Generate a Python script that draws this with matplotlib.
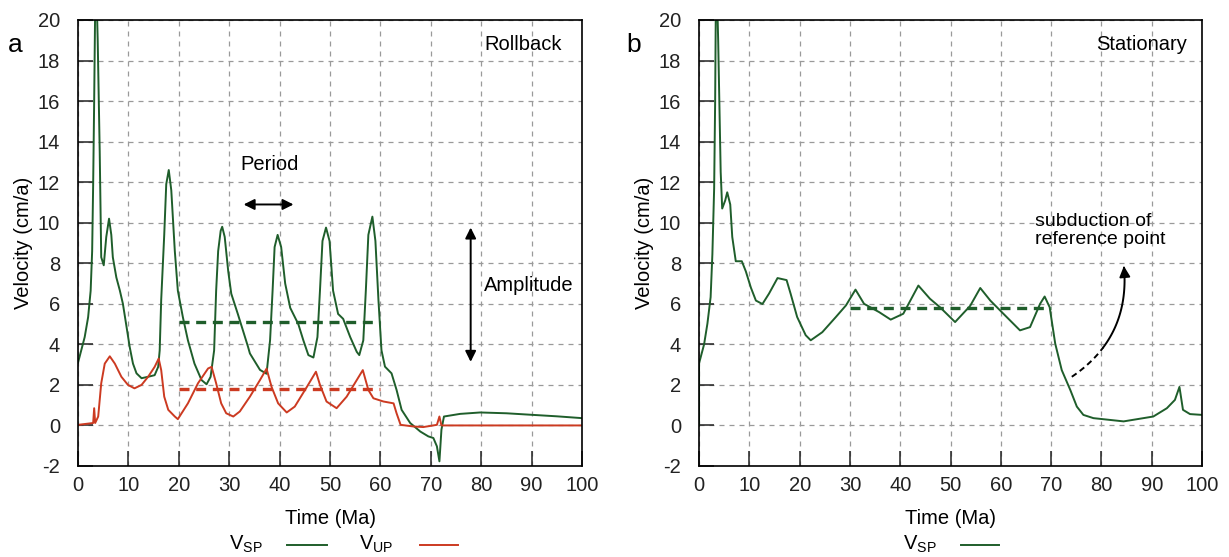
import numpy as np
import matplotlib
matplotlib.use('Agg')
import matplotlib.pyplot as plt
from matplotlib.lines import Line2D

plt.rcParams['font.family'] = ['Liberation Sans', 'DejaVu Sans']
plt.rcParams['mathtext.default'] = 'regular'
plt.rcParams['axes.unicode_minus'] = False

# --- data ------------------------------------------------------------------
# (a) Rollback, V_SP
t_sp_a = [0, 1.32, 2.0, 2.5, 2.8, 3.0, 3.2, 3.5, 3.9, 4.3, 4.6, 5.1, 5.6, 6.15, 6.6,
          6.9, 7.6, 8.3, 8.9, 9.6, 10.25, 10.9, 11.6, 12.6, 13.9, 15.2, 15.9, 16.2,
          16.5, 17.1, 17.5, 18.0, 18.5, 19.2, 19.8, 20.8, 21.8, 23.1, 24.5, 25.5,
          26.3, 27.0, 27.4, 27.8, 28.3, 28.6, 29.1, 29.8, 30.4, 31.7, 33.7, 34.1,
          36.1, 37.4, 38.1, 38.6, 39.0, 39.6, 40.3, 41.1, 42.1, 43.7, 44.7, 45.7,
          46.7, 47.5, 48.0, 48.5, 49.2, 49.9, 50.6, 51.6, 52.6, 54.0, 55.3, 55.8,
          56.6, 57.1, 57.6, 58.4, 59.0, 59.6, 60.2, 60.9, 62.2, 63.2, 64.2, 65.9,
          67.9, 69.5, 70.5, 71.2, 71.7, 72.1, 72.6, 75.8, 79.8, 85.0, 90.3, 95.0, 100]
v_sp_a = [3.1, 4.36, 5.34, 6.64, 8.6, 11.9, 16.0, 23.0, 19.0, 13.5, 8.3, 7.9, 9.3, 10.2,
          9.4, 8.3, 7.3, 6.65, 6.0, 4.9, 3.87, 3.05, 2.57, 2.33, 2.4, 2.48, 2.89, 3.7,
          6.2, 9.4, 11.9, 12.6, 11.6, 8.6, 6.65, 5.34, 4.2, 3.05, 2.24, 2.03,
          2.4, 3.7, 6.64, 8.6, 9.6, 9.8, 9.3, 7.6, 6.5, 5.5, 3.9, 3.55,
          2.74, 2.55, 4.2, 6.65, 8.8, 9.4, 8.8, 7.0, 5.8, 5.0, 4.2, 3.47,
          3.35, 4.36, 6.65, 9.1, 9.76, 9.1, 6.65, 5.5, 5.26, 4.36, 3.63, 3.47,
          4.2, 6.65, 9.4, 10.3, 9.1, 6.2, 3.71, 2.9, 2.57, 1.75, 0.77, 0.12,
          -0.3, -0.54, -0.62, -1.03, -1.77, -0.21, 0.44, 0.57, 0.64, 0.6, 0.52, 0.45, 0.36]

# (a) Rollback, V_UP
t_up_a = [0, 3.0, 3.2, 3.4, 4.0, 4.6, 5.3, 6.3, 7.3, 8.6, 9.9, 11.2, 12.6, 13.9, 15.2,
          16.0, 16.5, 17.1, 17.9, 19.2, 19.8, 21.8, 23.8, 25.8, 26.5, 27.4, 28.4,
          29.4, 30.8, 32.1, 34.1, 36.1, 37.4, 38.4, 39.7, 41.4, 43.0, 45.4, 47.2,
          48.0, 49.3, 51.3, 53.3, 55.3, 56.5, 57.6, 58.6, 60.6, 62.6, 63.2, 64.0,
          66.5, 68.5, 71.2, 71.7, 72.1, 100]
v_up_a = [0.03, 0.12, 0.85, 0.12, 0.44, 2.08, 3.05, 3.41, 3.05, 2.4, 2.0, 1.83, 2.0, 2.4,
          2.89, 3.3, 2.73, 1.42, 0.77, 0.44, 0.31, 1.09, 2.08, 2.81, 2.89, 2.08, 1.09,
          0.6, 0.44, 0.69, 1.42, 2.24, 2.8, 1.9, 1.09, 0.64, 0.93, 1.9, 2.65,
          2.0, 1.18, 0.85, 1.42, 2.24, 2.73, 1.75, 1.34, 1.18, 1.09, 0.6, 0.03,
          -0.05, -0.08, 0.03, 0.44, 0.0, 0.0]

# (b) Stationary, V_SP
t_sp_b = [0, 0, 1.0, 1.66, 2.3, 2.65, 3.0, 3.2, 3.4, 3.8, 4.3, 4.6, 5.2, 5.6, 6.2, 6.6,
          7.3, 8.5, 9.3, 10.3, 11.3, 12.6, 13.9, 15.6, 17.4, 18.2, 19.5, 21.2, 22.2,
          24.5, 27.2, 29.2, 31.1, 32.8, 35.8, 38.1, 40.6, 43.6, 45.9, 47.9, 50.9,
          53.9, 55.9, 57.9, 60.5, 63.8, 65.8, 67.8, 68.7, 69.7, 70.8, 72.1, 73.8,
          75.1, 76.4, 78.4, 84.4, 90.3, 93.0, 94.6, 95.5, 96.2, 97.6, 100]
v_sp_b = [0.0, 3.06, 4.0, 5.02, 6.33, 8.45, 11.7, 16.0, 23.0, 19.0, 12.5, 10.7, 11.1,
          11.5, 10.9, 9.3, 8.1, 8.1, 7.6, 6.8, 6.16, 5.99, 6.5, 7.27, 7.17, 6.5, 5.35,
          4.45, 4.2, 4.6, 5.35, 5.92, 6.7, 6.0, 5.59, 5.22, 5.51, 6.9, 6.25, 5.83,
          5.1, 5.9, 6.78, 6.16, 5.51, 4.69, 4.85, 6.0, 6.36, 5.83, 4.04, 2.73, 1.75,
          0.93, 0.52, 0.36, 0.2, 0.44, 0.85, 1.26, 1.9, 0.77, 0.56, 0.52]

mean_sp_a = 5.1
mean_up_a = 1.8
mean_sp_b = 5.8

GREEN = '#1f5e2b'
RED = '#cc3a21'
FS = 14.5

fig = plt.figure(figsize=(12.29, 5.57), dpi=100)
ax_a = fig.add_axes([0.0635, 0.1634, 0.4101, 0.8007])
ax_b = fig.add_axes([0.5688, 0.1634, 0.4093, 0.8007])


def style_axes(ax):
    ax.set_xlim(0, 100)
    ax.set_ylim(-2, 20)
    ax.set_xticks(np.arange(0, 101, 10))
    ax.set_yticks(np.arange(-2, 21, 2))
    ax.grid(True, color='#9a9a9a', linestyle=(0, (4, 4)), linewidth=0.9)
    ax.tick_params(direction='in', length=11, width=1.1, colors='#222222',
                   labelsize=FS, top=False, right=False)
    ax.tick_params(axis='y', pad=13)
    ax.tick_params(axis='x', pad=7)
    for s in ax.spines.values():
        s.set_linewidth(1.2)
    ax.set_xlabel('Time (Ma)', fontsize=FS, labelpad=10)
    ax.set_ylabel('Velocity (cm/a)', fontsize=FS, labelpad=3)


style_axes(ax_a)
style_axes(ax_b)

# panel a
ax_a.plot(t_sp_a, v_sp_a, color=GREEN, lw=1.4)
ax_a.plot(t_up_a, v_up_a, color=RED, lw=1.4)
ax_a.plot([20, 60], [mean_sp_a, mean_sp_a], color=GREEN, lw=2.4, linestyle=(0, (3, 2)))
ax_a.plot([20, 60], [mean_up_a, mean_up_a], color=RED, lw=2.4, linestyle=(0, (3, 2)))

ax_a.annotate('', xy=(32.3, 10.9), xytext=(43.3, 10.9),
              arrowprops=dict(arrowstyle='<|-|>', color='k', lw=1.4, mutation_scale=16))
ax_a.text(38, 12.85, 'Period', ha='center', va='center', fontsize=FS)
ax_a.annotate('', xy=(77.9, 3.0), xytext=(77.9, 9.9),
              arrowprops=dict(arrowstyle='<|-|>', color='k', lw=1.4, mutation_scale=16))
ax_a.text(80.6, 6.9, 'Amplitude', ha='left', va='center', fontsize=FS)
ax_a.text(96, 18.8, 'Rollback', ha='right', va='center', fontsize=FS)

# panel b
ax_b.plot(t_sp_b, v_sp_b, color=GREEN, lw=1.4)
ax_b.plot([30, 70], [mean_sp_b, mean_sp_b], color=GREEN, lw=2.4, linestyle=(0, (3, 2)))
ax_b.text(97, 18.8, 'Stationary', ha='right', va='center', fontsize=FS)
ax_b.text(66.8, 9.6, 'subduction of\nreference point', ha='left', va='center',
          fontsize=FS - 0.5, linespacing=1.1)

# curved arrow: quadratic bezier, dashed start then solid
p0 = np.array([74.1, 2.4])
p1 = np.array([86.0, 4.4])
p2 = np.array([84.4, 8.0])
s = np.linspace(0, 1, 60)[:, None]
curve = (1 - s) ** 2 * p0 + 2 * (1 - s) * s * p1 + s ** 2 * p2
cut = 20
ax_b.plot(curve[:cut, 0], curve[:cut, 1], color='k', lw=1.4, linestyle=(0, (3, 2)))
ax_b.plot(curve[cut - 1:-2, 0], curve[cut - 1:-2, 1], color='k', lw=1.4)
ax_b.annotate('', xy=tuple(curve[-1]), xytext=tuple(curve[-4]),
              arrowprops=dict(arrowstyle='-|>', color='k', lw=1.4, mutation_scale=16))

# panel letters
fig.text(8 / 1229, 1 - 45 / 557, 'a', fontsize=19, va='center')
fig.text(626 / 1229, 1 - 45 / 557, 'b', fontsize=19, va='center')


# gnuplot-style key under the plots
def key_entry(x_text, x0, x1, label, color):
    fig.text(x_text / 1229, 1 - 555 / 557, label, fontsize=FS, va='bottom', ha='left')
    fig.add_artist(Line2D([x0 / 1229, x1 / 1229], [1 - 545 / 557, 1 - 545 / 557],
                          color=color, lw=1.4, transform=fig.transFigure))


key_entry(229, 287, 327, r'$V_{SP}$', GREEN)
key_entry(359, 420, 458, r'$V_{UP}$', RED)
key_entry(903, 961, 999, r'$V_{SP}$', GREEN)

fig.savefig('out.png', dpi=100)
